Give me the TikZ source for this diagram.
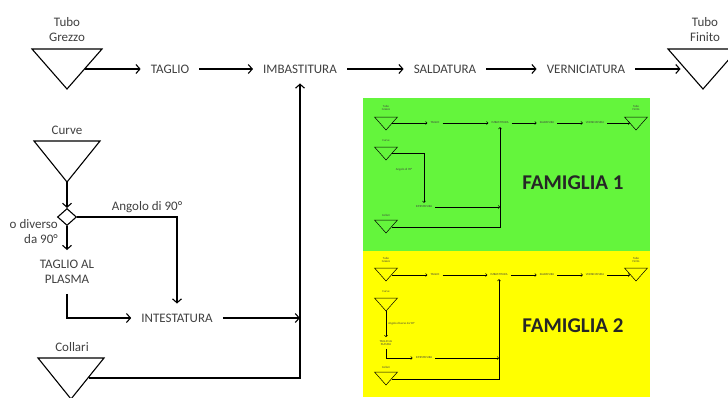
\documentclass[tikz,border=0pt]{standalone}
\usepackage{fontspec}
\setmainfont{Carlito}
\usetikzlibrary{arrows.meta, shapes.geometric}
\definecolor{famgreen}{RGB}{100,245,60}
\definecolor{famyellow}{RGB}{255,255,0}
\tikzset{>={Straight Barb[length=4pt,width=9pt]}}
\tikzset{
  lbl/.style={text=black!75, font=\fontsize{13}{15}\selectfont, inner sep=10pt, align=center},
  tag/.style={text=black!75, font=\fontsize{13}{15}\selectfont, inner sep=0pt, align=center},
  minilbl/.style={text=black!75, font=\fontsize{3}{3.5}\selectfont, inner sep=3pt, align=center},
  minitag/.style={text=black!75, font=\fontsize{3}{3.5}\selectfont, inner sep=0pt, align=center},
  wire/.style={line width=1.1pt},
  miniwire/.style={line width=0.5pt, >={Straight Barb[length=1.5pt,width=3pt]}}
}

\begin{document}
\begin{tikzpicture}[x=1pt, y=-1pt]
\useasboundingbox (0,0) rectangle (728,397);

% colour panels
\fill[famgreen] (363,98) rectangle (650,251);
\fill[famyellow] (363,251) rectangle (650,397);
\node[font=\fontsize{21}{22}\selectfont\bfseries, text=black!85] (fam1) at (573,183) {FAMIGLIA 1};
\node[font=\fontsize{21}{22}\selectfont\bfseries, text=black!85] (fam2) at (573,326) {FAMIGLIA 2};

% main line (triangles: coordinate = lower tip)
\coordinate (grezzo) at (67,89);
\draw[wire] (grezzo) -- ++(-35,-40) -- ++(70,0) -- cycle;
\node[tag] (grezzo-t) at (67,30) {Tubo\\Grezzo};
\node[lbl] (taglio) at (170,69) {TAGLIO};
\node[lbl] (imba) at (300,69) {IMBASTITURA};
\node[lbl] (salda) at (445,69) {SALDATURA};
\node[lbl] (verni) at (586,69) {VERNICIATURA};
\coordinate (finito) at (703,89);
\draw[wire] (finito) -- ++(-35,-40) -- ++(70,0) -- cycle;
\node[tag] (finito-t) at (705,30) {Tubo\\Finito};

\draw[wire,->] ([shift={(17.5,-20)}]grezzo) -- (taglio.west);
\draw[wire,->] (taglio) -- (imba);
\draw[wire,->] (imba) -- (salda);
\draw[wire,->] (salda) -- (verni);
\draw[wire,->,shorten >=5pt] (verni.east) -- ([shift={(-17.5,-20)}]finito);

% curve
\coordinate (curve) at (67,182);
\draw[wire] (curve) -- ++(-33,-41) -- ++(66,0) -- cycle;
\node[tag] (curve-t) at (67,130) {Curve};
\node[draw, diamond, minimum width=19, minimum height=17, inner sep=0, line width=1.1pt] (dia) at (67,217) {};
\node[lbl] (plasma) at (67,272) {TAGLIO AL\\PLASMA};
\node[lbl] (intest) at (177,318) {INTESTATURA};
\node[tag, anchor=east, align=right] (diverso) at (58,232) {o diverso\\da 90°};

\draw[wire,->] (curve) -- (dia.north);
\draw[wire,->] (dia.east) -| node[pos=0.35, above, tag, yshift=4pt] {Angolo di 90°} (intest.north);
\draw[wire,->] (dia.south) -- (plasma.north);
\draw[wire,->] (plasma.south) |- (intest.west);

% collari
\coordinate (collari) at (71,399);
\draw[wire] (collari) -- ++(-33,-41) -- ++(66,0) -- cycle;
\node[tag] (collari-t) at (72,347) {Collari};
\draw[wire,->] ([shift={(17.5,-21)}]collari) -| (imba.south);
\draw[wire,->] (intest.east) -- (intest.east -| imba.south);

% famiglia 1 (miniatura)
\coordinate (g-grezzo) at (386,130);
\draw[miniwire] (g-grezzo) -- ++(-11.5,-13) -- ++(23,0) -- cycle;
\node[minitag] at (386,108) {Tubo\\Grezzo};
\node[minilbl] (g-taglio) at (435,123) {TAGLIO};
\node[minilbl] (g-imba) at (500,123) {IMBASTITURA};
\node[minilbl] (g-salda) at (547,123) {SALDATURA};
\node[minilbl] (g-verni) at (595,123) {VERNICIATURA};
\coordinate (g-finito) at (636,130);
\draw[miniwire] (g-finito) -- ++(-11.5,-13) -- ++(23,0) -- cycle;
\node[minitag] at (636,108) {Tubo\\Finito};
\draw[miniwire,->] ([shift={(6,-7)}]g-grezzo) -- (g-taglio.west);
\draw[miniwire,->] (g-taglio) -- (g-imba);
\draw[miniwire,->] (g-imba) -- (g-salda);
\draw[miniwire,->] (g-salda) -- (g-verni);
\draw[miniwire,->] (g-verni.east) -- ([shift={(-6,-7)}]g-finito);
\coordinate (g-curve) at (386,160);
\draw[miniwire] (g-curve) -- ++(-11.5,-13) -- ++(23,0) -- cycle;
\node[minitag] at (386,141) {Curve};
\node[minilbl] (g-intest) at (424,207) {INTESTATURA};
\draw[miniwire,->] ([shift={(6,-7)}]g-curve) -| (g-intest.north);
\node[minitag] at (404,170) {Angolo di 90°};
\coordinate (g-collari) at (386,233);
\draw[miniwire] (g-collari) -- ++(-11.5,-13) -- ++(23,0) -- cycle;
\node[minitag] at (386,215) {Collari};
\draw[miniwire,->] ([shift={(6,-6)}]g-collari) -| (g-imba.south);
\draw[miniwire,->] (g-intest.east) -- (g-intest.east -| g-imba.south);

% famiglia 2 (miniatura)
\coordinate (y-grezzo) at (386,281);
\draw[miniwire] (y-grezzo) -- ++(-11.5,-13) -- ++(23,0) -- cycle;
\node[minitag] at (386,260) {Tubo\\Grezzo};
\node[minilbl] (y-taglio) at (435,275) {TAGLIO};
\node[minilbl] (y-imba) at (499,275) {IMBASTITURA};
\node[minilbl] (y-salda) at (547,275) {SALDATURA};
\node[minilbl] (y-verni) at (595,275) {VERNICIATURA};
\coordinate (y-finito) at (636,281);
\draw[miniwire] (y-finito) -- ++(-11.5,-13) -- ++(23,0) -- cycle;
\node[minitag] at (636,260) {Tubo\\Finito};
\draw[miniwire,->] ([shift={(6,-6)}]y-grezzo) -- (y-taglio.west);
\draw[miniwire,->] (y-taglio) -- (y-imba);
\draw[miniwire,->] (y-imba) -- (y-salda);
\draw[miniwire,->] (y-salda) -- (y-verni);
\draw[miniwire,->] (y-verni.east) -- ([shift={(-6,-6)}]y-finito);
\coordinate (y-curve) at (386,311);
\draw[miniwire] (y-curve) -- ++(-11.5,-13) -- ++(23,0) -- cycle;
\node[minitag] at (386,292) {Curve};
\node[minilbl] (y-plasma) at (386,343) {TAGLIO AL\\PLASMA};
\node[minilbl] (y-intest) at (424,358) {INTESTATURA};
\draw[miniwire,->] (y-curve) -- node[right, minitag, xshift=2pt] {Angolo diverso da 90°} (y-plasma.north);
\draw[miniwire,->] (y-plasma.south) |- (y-intest.west);
\coordinate (y-collari) at (386,385);
\draw[miniwire] (y-collari) -- ++(-11.5,-13) -- ++(23,0) -- cycle;
\node[minitag] at (386,367) {Collari};
\draw[miniwire,->] ([shift={(6,-6)}]y-collari) -| (y-imba.south);
\draw[miniwire,->] (y-intest.east) -- (y-intest.east -| y-imba.south);
\end{tikzpicture}
\end{document}
